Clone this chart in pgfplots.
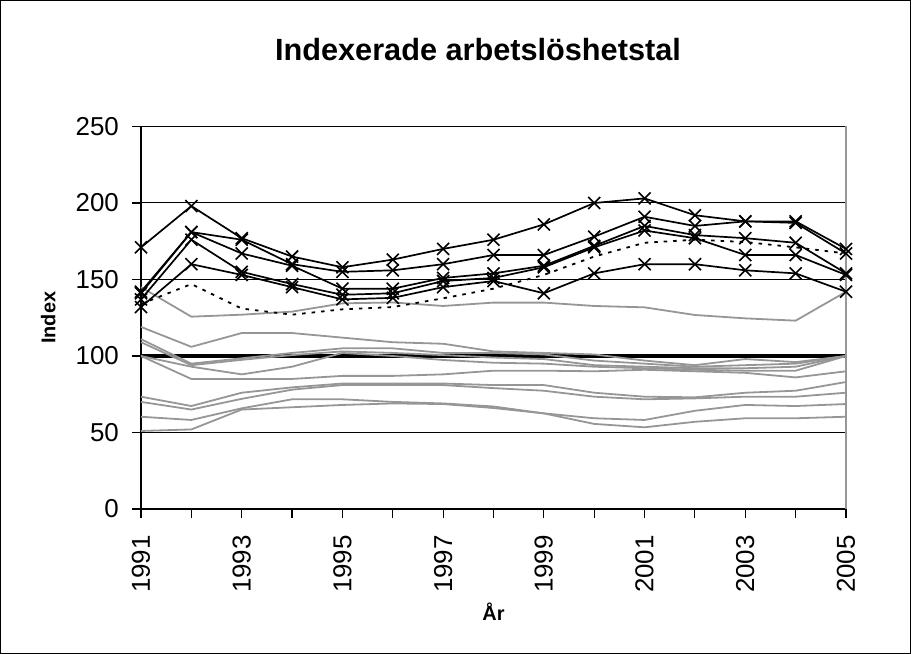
\documentclass[border=0pt]{standalone}
\usepackage{fontspec}
\setmainfont{Liberation Sans}
\usepackage{pgfplots}
\pgfplotsset{compat=1.18}
\definecolor{greyline}{RGB}{150,150,150}

\pgfplotsset{
  blk/.style={black, line width=1.7bp, mark=x, mark size=8.5bp, mark options={solid, line width=1.6bp}},
  gry/.style={greyline, line width=1.8bp, no markers},
}

\begin{document}
\begin{tikzpicture}
\useasboundingbox (0,0) rectangle (911bp,654bp);
\draw[black, line width=1bp] (0.5bp,0.5bp) rectangle (910.5bp,653.5bp);
\begin{axis}[
  at={(141bp,145bp)}, anchor=south west,
  scale only axis, width=705bp, height=382.5bp,
  xmin=1991, xmax=2005, ymin=0, ymax=250,
  axis lines*=left,
  axis line style={black, line width=1.2bp},
  clip=false,
  xtick={1991,1992,...,2005},
  xticklabels={1991,,1993,,1995,,1997,,1999,,2001,,2003,,2005},
  ytick={0,50,100,150,200,250},
  ymajorgrids,
  grid style={black, line width=1bp},
  tick align=outside,
  major tick length=9bp,
  tick style={black, line width=1.2bp},
  /pgf/number format/assume math mode=true,
  ticklabel style={font=\fontsize{26}{26}\selectfont},
  xticklabel style={yshift=-17bp, rotate=90, anchor=east, inner sep=0pt},
  yticklabel style={xshift=-13bp, anchor=east, inner sep=0pt},
  title={Indexerade arbetslöshetstal},
  title style={font=\fontsize{30.8}{31}\selectfont\bfseries, at={(axis description cs:0.478,1)}, anchor=center, yshift=71bp},
  xlabel={År},
  xlabel style={font=\fontsize{20}{20}\selectfont\bfseries, at={(axis description cs:0.5,0)}, anchor=center, yshift=-103bp},
  ylabel={Index},
  ylabel style={font=\fontsize{20}{20}\selectfont\bfseries, at={(axis description cs:-0.1315,0.5)}, anchor=center},
]
% reference line
\addplot[black, line width=3.4bp, no markers] coordinates {(1991,100) (2005,100)};
% grey series
\addplot[gry] coordinates {(1991,145) (1992,125.7) (1993,127) (1994,129) (1995,134.4) (1996,135) (1997,132.7) (1998,134.9) (1999,134.9) (2000,132.7) (2001,131.8) (2002,126.8) (2003,124.6) (2004,123.1) (2005,142)};
\addplot[gry] coordinates {(1991,119) (1992,106) (1993,115) (1994,115) (1995,112) (1996,109) (1997,108) (1998,103) (1999,102) (2000,101) (2001,97) (2002,94) (2003,98) (2004,96) (2005,100)};
\addplot[gry] coordinates {(1991,111) (1992,95) (1993,98.5) (1994,102) (1995,105) (1996,105) (1997,102) (1998,102) (1999,101) (2000,97) (2001,95) (2002,93) (2003,94) (2004,95) (2005,100)};
\addplot[gry] coordinates {(1991,109) (1992,94) (1993,97.5) (1994,100.6) (1995,103) (1996,102) (1997,100.6) (1998,99) (1999,98) (2000,94) (2001,93) (2002,92) (2003,92) (2004,93) (2005,100)};
\addplot[gry] coordinates {(1991,100) (1992,93) (1993,88) (1994,93) (1995,102) (1996,100) (1997,97.4) (1998,95.6) (1999,95) (2000,93) (2001,92) (2002,91) (2003,90.4) (2004,90.4) (2005,100)};
\addplot[gry] coordinates {(1991,100) (1992,85) (1993,85) (1994,85) (1995,87) (1996,87) (1997,88) (1998,90.4) (1999,90.4) (2000,90) (2001,91) (2002,90) (2003,89) (2004,86) (2005,90)};
\addplot[gry] coordinates {(1991,73.4) (1992,67.3) (1993,76) (1994,79.5) (1995,82) (1996,82) (1997,82) (1998,81) (1999,81) (2000,76) (2001,73.4) (2002,73) (2003,76) (2004,77.3) (2005,83)};
\addplot[gry] coordinates {(1991,70) (1992,65) (1993,72) (1994,78) (1995,81) (1996,81) (1997,81) (1998,79) (1999,77.3) (2000,73.4) (2001,71.7) (2002,72.3) (2003,73.4) (2004,73.4) (2005,76)};
\addplot[gry] coordinates {(1991,60.3) (1992,58.2) (1993,65.8) (1994,71.7) (1995,71.7) (1996,70) (1997,69) (1998,67) (1999,62.5) (2000,59.3) (2001,58.2) (2002,64.2) (2003,68) (2004,67.3) (2005,68.6)};
\addplot[gry] coordinates {(1991,51) (1992,52) (1993,65) (1994,66.5) (1995,68) (1996,69) (1997,68.6) (1998,66) (1999,62.5) (2000,55.6) (2001,53.4) (2002,57) (2003,59.3) (2004,59.3) (2005,60.3)};
% dotted series
\addplot[black, line width=1.8bp, dash pattern=on 3.5bp off 6bp, no markers] coordinates {(1991,134) (1992,147) (1993,131) (1994,127) (1995,130.5) (1996,132) (1997,137.7) (1998,144) (1999,153) (2000,165) (2001,174) (2002,176) (2003,174.5) (2004,171) (2005,167)};
% black series with x markers
\addplot[blk] coordinates {(1991,171) (1992,198) (1993,177) (1994,165) (1995,158) (1996,163) (1997,170) (1998,176) (1999,186) (2000,200) (2001,203) (2002,192) (2003,188) (2004,188) (2005,170)};
\addplot[blk] coordinates {(1991,142) (1992,181) (1993,176) (1994,160) (1995,155) (1996,156) (1997,160) (1998,166) (1999,166) (2000,178) (2001,191) (2002,185) (2003,188) (2004,187) (2005,167)};
\addplot[blk] coordinates {(1991,141) (1992,181) (1993,167) (1994,159) (1995,144) (1996,144) (1997,151) (1998,154) (1999,159) (2000,172) (2001,185) (2002,179) (2003,177) (2004,174) (2005,154)};
\addplot[blk] coordinates {(1991,137) (1992,176) (1993,155) (1994,147) (1995,140) (1996,141) (1997,149) (1998,151) (1999,158) (2000,171) (2001,182) (2002,177) (2003,166) (2004,166) (2005,153)};
\addplot[blk] coordinates {(1991,132) (1992,160) (1993,153) (1994,145) (1995,137) (1996,138) (1997,145) (1998,149) (1999,141) (2000,154) (2001,160) (2002,160) (2003,156) (2004,154) (2005,142)};
% grey plot-area border on the right
\draw[greyline, line width=1.2bp] (axis cs:2005,0) -- (axis cs:2005,250);
\end{axis}
\end{tikzpicture}
\end{document}
